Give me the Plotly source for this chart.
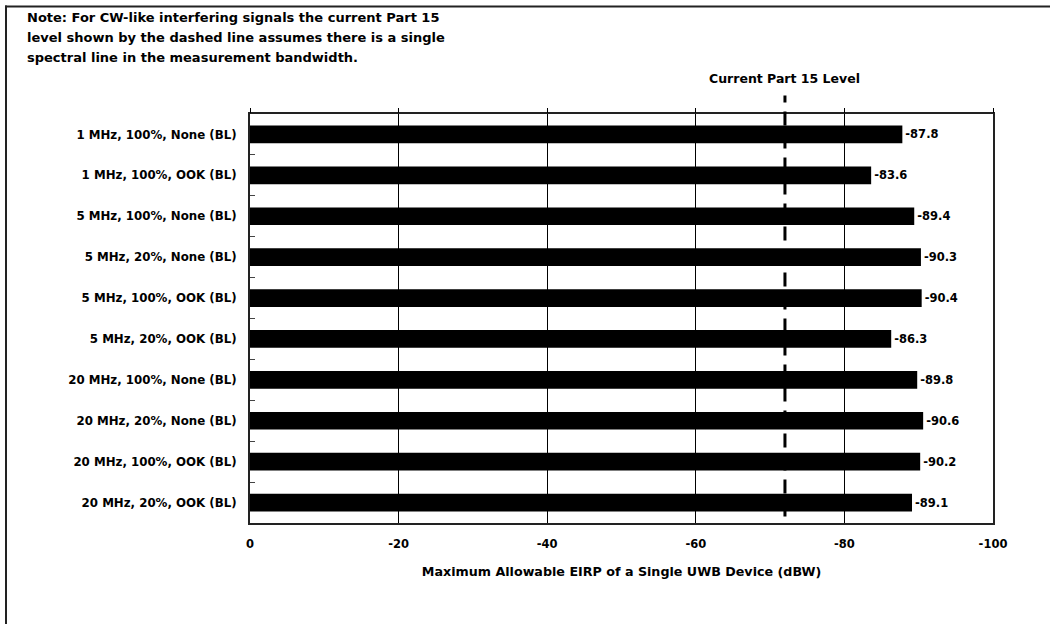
import plotly.graph_objects as go

categories = [
    "1 MHz, 100%, None (BL)",
    "1 MHz, 100%, OOK (BL)",
    "5 MHz, 100%, None (BL)",
    "5 MHz, 20%, None (BL)",
    "5 MHz, 100%, OOK (BL)",
    "5 MHz, 20%, OOK (BL)",
    "20 MHz, 100%, None (BL)",
    "20 MHz, 20%, None (BL)",
    "20 MHz, 100%, OOK (BL)",
    "20 MHz, 20%, OOK (BL)",
]
values = [-87.8, -83.6, -89.4, -90.3, -90.4, -86.3, -89.8, -90.6, -90.2, -89.1]
part15_level = -72.0
x_ticks = [0, -20, -40, -60, -80, -100]
x_tick_text = ["0", "-20", "-40", "-60", "-80", "-100"]
note_lines = [
    "Note: For CW-like interfering signals the current Part 15",
    "level shown by the dashed line assumes there is a single",
    "spectral line in the measurement bandwidth.",
]
x_title = "Maximum Allowable EIRP of a Single UWB Device (dBW)"
part15_label = "Current Part 15 Level"

FONT = "'DejaVu Sans', Arial, sans-serif"

W, H = 1050, 624
L, R, T, B = 250, 57, 114, 101
pw, ph = W - L - R, H - T - B


def px_x(p):
    return (p - L) / pw


def px_y(p):
    return 1 + (T - p) / ph


def f(size):
    return dict(family=FONT, size=size, color="black", weight=700)


fig = go.Figure()
fig.add_trace(go.Bar(
    x=values, y=categories, orientation="h",
    marker=dict(color="black", line=dict(width=0)),
    text=[f"{v:.1f}" for v in values],
    textposition="outside",
    textfont=f(11.5),
    cliponaxis=False, constraintext="none",
    hoverinfo="skip", showlegend=False,
))
# helper trace so the top tick axis is drawn
fig.add_trace(go.Scatter(x=[None], y=[None], xaxis="x2", yaxis="y",
                         showlegend=False, hoverinfo="skip"))

fig.update_layout(
    width=W, height=H,
    margin=dict(l=L, r=R, t=T, b=B, pad=0),
    paper_bgcolor="white", plot_bgcolor="white",
    bargap=0.567,
    font=f(12),
    xaxis=dict(
        range=[0, -100], tickvals=x_ticks, ticktext=x_tick_text,
        showgrid=True, gridcolor="black", gridwidth=1,
        zeroline=False, showline=True, linecolor="#222", linewidth=2,
        mirror=True, ticks="", ticklabelstandoff=9,
        tickfont=f(11.5),
        title=dict(text=x_title, standoff=17, font=f(12.7)),
    ),
    xaxis2=dict(
        overlaying="x", matches="x", side="top", range=[0, -100],
        tickvals=x_ticks, ticks="outside", ticklen=5, tickwidth=1,
        tickcolor="black", showticklabels=False, showgrid=False,
        zeroline=False, showline=False,
    ),
    yaxis=dict(
        type="category", categoryorder="array", categoryarray=categories,
        autorange="reversed",
        showgrid=False, zeroline=False,
        showline=True, linecolor="#222", linewidth=2, mirror=True,
        ticks="inside", tickson="boundaries", ticklen=5, tickcolor="#444",
        tickwidth=1, ticklabelstandoff=9,
        tickfont=f(11.8),
    ),
)

# dashed Part 15 line
fig.add_shape(type="line", xref="x", yref="paper",
              x0=part15_level, x1=part15_level, y0=px_y(516.5), y1=px_y(95.5),
              line=dict(color="black", width=3, dash="14px,9px"), layer="above")

# outer frame (top and left edges; right/bottom lie outside the image)
fig.add_shape(type="line", xref="paper", yref="paper",
              x0=px_x(5), x1=px_x(1060), y0=px_y(6.5), y1=px_y(6.5),
              line=dict(color="#222", width=2))
fig.add_shape(type="line", xref="paper", yref="paper",
              x0=px_x(6), x1=px_x(6), y0=px_y(640), y1=px_y(5.5),
              line=dict(color="#222", width=2))

fig.add_annotation(text=part15_label, xref="x", yref="paper",
                   x=part15_level, y=px_y(78.3), xanchor="center", yanchor="middle",
                   showarrow=False, font=f(12.5))

for i, line in enumerate(note_lines):
    fig.add_annotation(text=line, xref="paper", yref="paper",
                       x=px_x(25), y=px_y(17.7 + 19.7 * i),
                       xanchor="left", yanchor="middle", showarrow=False,
                       font=f(13))

fig.write_html("out.html", config={"displayModeBar": False},
               post_script="document.body.style.margin='0';")
